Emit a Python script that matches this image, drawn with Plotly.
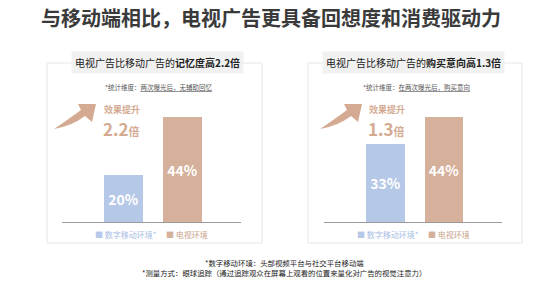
import plotly.graph_objects as go

W, H = 542, 289
FONT = "Noto Sans CJK SC"

# ---- data ----
categories = ["数字移动环境*", "电视环境"]
memory_values = [20, 44]      # 记忆度 (%)
purchase_values = [33, 44]    # 购买意向 (%)
bar_colors = ["#b6c8e8", "#d5b09a"]
text_colors = ["#a8bde3", "#c9a38c"]
panel_titles = ["电视广告比移动广告的<b>记忆度高2.2倍</b>",
                "电视广告比移动广告的<b>购买意向高1.3倍</b>"]
panel_notes = ["*统计维度：<u>两次曝光后，无辅助回忆</u>",
               "*统计维度：<u>在两次曝光后，购买意向</u>"]
uplift_labels = ["2.2", "1.3"]
main_title = "与移动端相比，电视广告更具备回想度和消费驱动力"
footnotes = ["*数字移动环境：头部视频平台与社交平台移动端",
             "*测量方式：眼球追踪（通过追踪观众在屏幕上观看的位置来量化对广告的视觉注意力）"]

TAN = "#d4ab92"


def px(x):
    return x / W


def py(y):
    return 1 - y / H


fig = go.Figure()

panels = [
    dict(values=memory_values, xa="x", ya="y", shift=0, legend_x=(93, 164)),
    dict(values=purchase_values, xa="x2", ya="y2", shift=262, legend_x=(355, 426)),
]

for p in panels:
    for i, cat in enumerate(categories):
        fig.add_trace(go.Bar(
            x=[cat], y=[p["values"][i]],
            name=cat,
            marker=dict(color=bar_colors[i], line=dict(width=0)),
            width=0.66,
            texttemplate="<b>%{y}%</b>",
            textposition="inside", insidetextanchor="middle",
            textfont=dict(color="white", size=14, family=FONT),
            xaxis=p["xa"], yaxis=p["ya"], showlegend=False,
            hoverinfo="skip",
        ))

ydom = [py(222), py(102.5)]
axis_common = dict(showgrid=False, zeroline=False, ticks="", showticklabels=False)
fig.update_layout(
    width=W, height=H, margin=dict(l=0, r=0, t=0, b=0),
    paper_bgcolor="white", plot_bgcolor="rgba(0,0,0,0)",
    barmode="overlay", bargap=0,
    font=dict(family=FONT, color="#333"),
    xaxis=dict(domain=[px(62), px(241)], type="category", categoryorder="array",
               categoryarray=categories, range=[-1.04, 1.99], showline=True,
               linecolor="#9a9a9a", linewidth=1, anchor="y", **axis_common),
    yaxis=dict(domain=ydom, range=[0, 50], showline=False, anchor="x", **axis_common),
    xaxis2=dict(domain=[px(324), px(502)], type="category", categoryorder="array",
                categoryarray=categories, range=[-1.05, 1.99], showline=True,
                linecolor="#9a9a9a", linewidth=1, anchor="y2", **axis_common),
    yaxis2=dict(domain=ydom, range=[0, 50], showline=False, anchor="x2", **axis_common),
    showlegend=False,
)

shapes = []
annotations = []

# panel borders
for (x0, x1) in [(47, 262), (308, 522)]:
    shapes.append(dict(type="rect", xref="paper", yref="paper",
                       x0=px(x0), x1=px(x1), y0=py(243), y1=py(63),
                       line=dict(color="#e6e6e6", width=1), layer="below"))

# arrows
arrow_pts = [("M", 54, 129), ("Q", 72, 126, 85, 116), ("L", 92, 122), ("L", 96, 104),
             ("L", 78, 104), ("L", 81, 110), ("Q", 66, 121, 54, 129)]
for p in panels:
    s = p["shift"] + 4 if p["shift"] else 0
    parts = []
    for seg in arrow_pts:
        cmd = seg[0]
        coords = seg[1:]
        pts = []
        for k in range(0, len(coords), 2):
            pts.append(f"{px(coords[k] + s):.5f},{py(coords[k + 1]):.5f}")
        parts.append(cmd + " " + " ".join(pts))
    path = " ".join(parts) + " Z"
    shapes.append(dict(type="path", xref="paper", yref="paper", path=path,
                       fillcolor=TAN, line=dict(width=0)))

fig.update_layout(shapes=shapes)


def ann(text, x, y, size, color, xanchor="center", **kw):
    annotations.append(dict(text=text, x=px(x), y=py(y), xref="paper", yref="paper",
                            showarrow=False, xanchor=xanchor, yanchor="middle",
                            font=dict(size=size, color=color, family=FONT), **kw))


# main title
ann(f"<b>{main_title}</b>", 271, 17, 20, "#3a3a3a")

title_centers = [157, 413]
note_centers = [159, 416]
uplift_x = [103, 368]
for k in range(2):
    ann(panel_titles[k], title_centers[k], 62.5, 10, "#222", bgcolor="#f1f1f1", borderpad=3)
    ann(panel_notes[k], note_centers[k], 87, 6.5, "#555")
    ann("<b>效果提升</b>", uplift_x[k], 109, 9, TAN, xanchor="left", borderpad=0)
    ann(f"<b>{uplift_labels[k]}</b><span style='font-size:11px'><b>倍</b></span>",
        uplift_x[k] - 1, 128, 17, TAN, xanchor="left", borderpad=0)
    # legend
    lx = panels[k]["legend_x"]
    for i, cat in enumerate(categories):
        ann(f"<span style='color:{bar_colors[i]}'>■</span> {cat}", lx[i], 234, 8,
            text_colors[i], xanchor="left")

for txt, yy in zip(footnotes, [262, 272]):
    ann(txt, 284, yy, 7.4, "#222")

fig.update_layout(annotations=annotations)

fig.write_html("out.html")
